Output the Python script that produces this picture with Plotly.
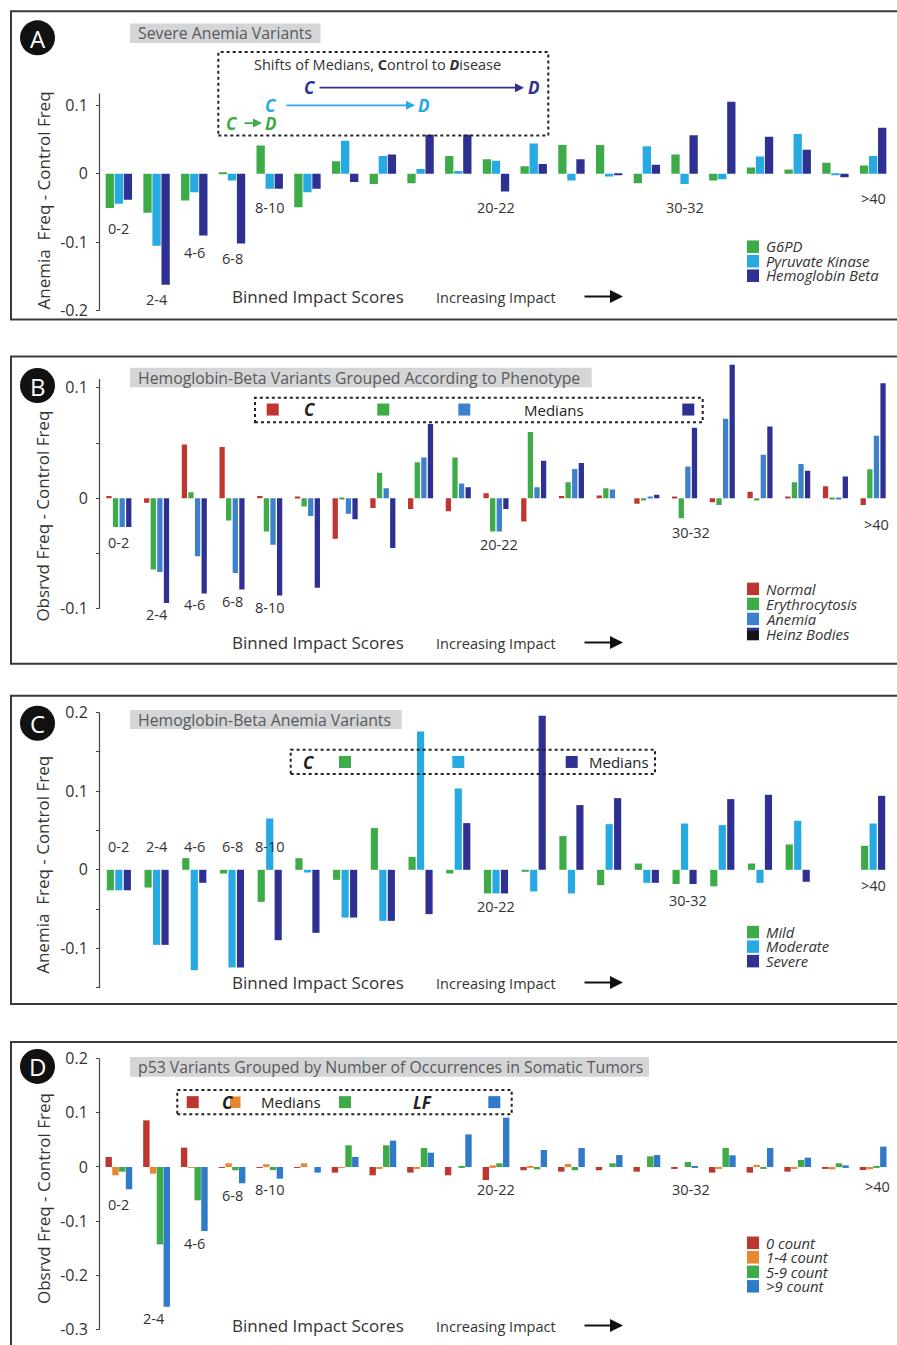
import plotly.graph_objects as go

W, H = 897, 1345

bins = ["0-2", "2-4", "4-6", "6-8", "8-10", "10-12", "12-14", "14-16", "16-18", "18-20",
        "20-22", "22-24", "24-26", "26-28", "28-30", "30-32", "32-34", "34-36", "36-38",
        "38-40", ">40"]

# Panel A: Severe anemia variants
a_g6pd = [-0.050, -0.057, -0.039, 0.001, 0.041, -0.049, 0.018, -0.015, -0.014, 0.026, 0.021,
          0.011, 0.042, 0.042, -0.014, 0.028, -0.010, 0.009, 0.006, 0.016, 0.012]
a_pk = [-0.044, -0.105, -0.027, -0.010, -0.022, -0.027, 0.048, 0.026, 0.007, 0.004, 0.019,
        0.044, -0.010, -0.004, 0.040, -0.015, -0.008, 0.025, 0.058, -0.001, 0.026]
a_hbb = [-0.038, -0.162, -0.090, -0.102, -0.022, -0.022, -0.012, 0.028, 0.057, 0.057, -0.026,
         0.014, 0.021, -0.002, 0.013, 0.056, 0.105, 0.054, 0.035, -0.005, 0.067]

# Panel B: Hemoglobin-beta variants by phenotype
b_normal = [0.002, -0.004, 0.0486, 0.0465, 0.002, 0.001, -0.0365, -0.0087, -0.0096, -0.0118,
            0.0045, -0.021, 0.002, 0.0025, -0.005, 0.001, -0.0036, 0.006, 0.001, 0.011, -0.006]
b_ery = [-0.026, -0.0645, 0.0054, -0.020, -0.030, -0.0075, -0.001, 0.023, 0.0326, 0.0368,
         -0.030, 0.060, 0.0145, 0.009, -0.002, -0.018, -0.006, -0.002, 0.0145, -0.001, 0.0262]
b_anemia = [-0.026, -0.0667, -0.0525, -0.0675, -0.042, -0.016, -0.014, 0.009, 0.0368, 0.0133,
            -0.030, 0.010, 0.0266, 0.008, 0.001, 0.0287, 0.0719, 0.0393, 0.031, -0.001, 0.0565]
b_heinz = [-0.026, -0.0947, -0.086, -0.0826, -0.088, -0.081, -0.019, -0.045, 0.0673, 0.010,
           -0.0096, 0.034, 0.032, 0.0, 0.0033, 0.0637, 0.1207, 0.065, 0.025, 0.0196, 0.104]

# Panel C: Hemoglobin-beta anemia variants
c_mild = [-0.026, -0.0225, 0.0148, -0.0047, -0.0407, 0.0148, -0.0127, 0.053, 0.0165, -0.0047,
          -0.030, -0.0025, 0.0428, -0.0195, 0.008, -0.018, -0.021, 0.008, 0.0322, None, 0.0305]
c_moderate = [-0.026, -0.0953, -0.1275, -0.124, 0.0652, -0.0034, -0.0606, -0.0648, 0.1757, 0.1033,
              -0.030, -0.0275, -0.030, 0.058, -0.0165, 0.0588, 0.0568, -0.0165, 0.0623, None, 0.0588]
c_severe = [-0.026, -0.0953, -0.0165, -0.124, -0.0894, -0.080, -0.0606, -0.0648, -0.0563, 0.0593,
            -0.030, 0.1957, 0.0822, 0.091, -0.0165, -0.018, 0.0898, 0.0953, -0.0152, None, 0.094]

# Panel D: p53 variants by occurrences in somatic tumors
d_0 = [0.0185, 0.086, 0.0357, -0.001, -0.001, -0.001, -0.0104, -0.0153, -0.0104, -0.0153, -0.024,
       -0.006, -0.0086, -0.006, -0.0086, -0.002, -0.0104, -0.0104, -0.0086, -0.002, -0.0055]
d_1_4 = [-0.0153, -0.0123, -0.001, 0.0068, 0.005, 0.0068, -0.001, -0.002, -0.003, 0.0, 0.003,
         0.002, 0.0055, 0.0, 0.0, 0.0, -0.002, 0.004, -0.002, -0.0043, -0.0043]
d_5_9 = [-0.0086, -0.1427, -0.0615, -0.006, -0.0055, 0.0, 0.040, 0.040, 0.035, 0.002, 0.0068,
         -0.0043, -0.006, 0.0068, 0.0197, 0.0092, 0.035, -0.002, 0.013, 0.0068, 0.002]
d_gt9 = [-0.041, -0.2577, -0.118, -0.030, -0.0215, -0.0104, 0.0185, 0.0486, 0.0264, 0.060, 0.091,
         0.0314, 0.035, 0.022, 0.022, 0.0015, 0.0215, 0.035, 0.0172, 0.003, 0.0375]

GREEN = "#3dab48"
LBLUE = "#27aae1"
NAVY = "#2e3192"
RED = "#be3630"
MBLUE = "#3d80cc"
ORANGE = "#e8872f"
DBLUE = "#2f7bc9"
FONT = "Open Sans"
TXT = "#333333"

# vertical calibration of the photographed page
Y_OFF, Y_SC = 4.7, 0.989


def px(x):
    return x / W


def py(y):
    return 1 - ((y - Y_OFF) / Y_SC) / H


def clamp(v):
    return min(1.0, max(0.0, v))


def ann(text, x, y, size, color=TXT, xanchor="center", family=FONT, **kw):
    d = dict(text=text, x=px(x), y=py(y), xref="paper", yref="paper", showarrow=False,
             xanchor=xanchor, yanchor="middle", font=dict(size=size, color=color, family=family))
    d.update(kw)
    return d


fig = go.Figure()

panels = [
    dict(ax="", series=[("G6PD", a_g6pd, GREEN), ("Pyruvate Kinase", a_pk, LBLUE),
                        ("Hemoglobin Beta", a_hbb, NAVY)],
         width=0.22, offsets=[-0.35, -0.11, 0.13]),
    dict(ax="2", series=[("Normal", b_normal, RED), ("Erythrocytosis", b_ery, GREEN),
                         ("Anemia", b_anemia, MBLUE), ("Heinz Bodies", b_heinz, NAVY)],
         width=0.14, offsets=[-0.3325, -0.1575, 0.0175, 0.1925]),
    dict(ax="3", series=[("Mild", c_mild, GREEN), ("Moderate", c_moderate, LBLUE),
                         ("Severe", c_severe, NAVY)],
         width=0.19, offsets=[-0.32, -0.095, 0.13]),
    dict(ax="4", series=[("0 count", d_0, RED), ("1-4 count", d_1_4, ORANGE),
                         ("5-9 count", d_5_9, GREEN), (">9 count", d_gt9, DBLUE)],
         width=0.17, offsets=[-0.355, -0.175, 0.005, 0.185]),
]

for p in panels:
    for (name, vals, col), off in zip(p["series"], p["offsets"]):
        fig.add_trace(go.Bar(x=bins, y=vals, name=name, marker=dict(color=col, line=dict(width=0)),
                             width=p["width"], offset=off, xaxis="x" + p["ax"], yaxis="y" + p["ax"],
                             showlegend=False, hoverinfo="x+y+name"))

# axis geometry: zero pixel, px per unit, domain top/bottom px
geo = [
    dict(zero=173.3, k=685, top=80, bot=312, tv=[-0.2, -0.1, 0, 0.1], tt=["-0.2", "-0.1", "0", "0.1"],
         line=(-0.2, 0.117)),
    dict(zero=497.7, k=1105, top=358, bot=624, tv=[-0.1, -0.05, 0, 0.05, 0.1],
         tt=["-0.1", "", "0", "", "0.1"], line=(-0.1, 0.108)),
    dict(zero=869, k=787, top=705, bot=992, tv=[-0.15, -0.1, -0.05, 0, 0.05, 0.1, 0.15, 0.2],
         tt=["", "-0.1", "", "0", "", "0.1", "", "0.2"], line=(-0.15, 0.2)),
    dict(zero=1166, k=542, top=1050, bot=1333, tv=[-0.3, -0.2, -0.1, 0, 0.1, 0.2],
         tt=["-0.3", "-0.2", "-0.1", "0", "0.1", "0.2"], line=(-0.3, 0.2)),
]

layout = dict(width=W, height=H, margin=dict(l=0, r=0, t=0, b=0), paper_bgcolor="white",
              plot_bgcolor="rgba(0,0,0,0)", barmode="overlay", showlegend=False,
              font=dict(family=FONT, color=TXT))
shapes = []
annotations = []

for i, g in enumerate(geo):
    sfx = "" if i == 0 else str(i + 1)
    rng = [-(g["bot"] - g["zero"]) / g["k"], (g["zero"] - g["top"]) / g["k"]]
    layout["xaxis" + sfx] = dict(domain=[px(100), px(892)], range=[-0.5, 20.5], type="category",
                                 visible=False, anchor="y" + sfx, fixedrange=True)
    layout["yaxis" + sfx] = dict(domain=[clamp(py(g["bot"])), clamp(py(g["top"]))], range=rng,
                                 anchor="x" + sfx, showgrid=False, zeroline=False, showline=False,
                                 ticks="outside", ticklen=3, tickwidth=1, tickcolor="#444",
                                 tickvals=g["tv"], ticktext=g["tt"],
                                 tickfont=dict(size=16, color=TXT, family=FONT),
                                 ticklabelstandoff=5, fixedrange=True)
    shapes.append(dict(type="line", xref="paper", yref="y" + sfx, x0=px(99.5), x1=px(99.5),
                       y0=g["line"][0], y1=g["line"][1], line=dict(color="#444", width=1.2)))

# panel frames
for y0, y1 in [(11, 319), (356, 663), (695, 1003), (1041, 1370)]:
    shapes.append(dict(type="rect", xref="paper", yref="paper", x0=px(11), x1=px(905),
                       y0=py(y1), y1=py(y0), line=dict(color="#3a3a3a", width=2)))

# circled letters
for letter, cy in [("A", 37.5), ("B", 385), ("C", 722.5), ("D", 1065.5)]:
    shapes.append(dict(type="circle", xref="paper", yref="paper", x0=px(20), x1=px(55),
                       y0=py(cy + 17.5), y1=py(cy - 17.5), fillcolor="#111111", line=dict(width=0)))
    annotations.append(ann(letter, 37.5, cy + 0.5, 24, color="white"))

# grey title boxes
for text, x1, y0, y1 in [("Severe Anemia Variants", 320.5, 23.3, 42.7),
                         ("Hemoglobin-Beta Variants Grouped According to Phenotype", 591.7, 367.3, 386.7),
                         ("Hemoglobin-Beta Anemia Variants", 401.7, 709.3, 728.3),
                         ("p53 Variants Grouped by Number of Occurrences in Somatic Tumors", 649, 1056, 1075.7)]:
    shapes.append(dict(type="rect", xref="paper", yref="paper", x0=px(130), x1=px(x1),
                       y0=py(y1), y1=py(y0), fillcolor="#d3d5d7", line=dict(width=0), layer="below"))
    annotations.append(ann(text, 135.5, (y0 + y1) / 2, 15.8, color="#58595b", xanchor="left"))

# y-axis titles
for text, cy in [("Anemia  Freq - Control Freq", 200), ("Obsrvd Freq - Control Freq", 516),
                 ("Anemia  Freq - Control Freq", 864), ("Obsrvd Freq - Control Freq", 1198)]:
    annotations.append(ann(text, 43, cy, 17, textangle=-90))

# bottom labels with arrows
for cy in [296, 641.7, 981.7, 1324.5]:
    annotations.append(ann("Binned Impact Scores", 317.5, cy, 17))
    annotations.append(ann("Increasing Impact", 496.5, cy + 1, 14.5))
    annotations.append(dict(text="", x=px(623), y=py(cy), xref="paper", yref="paper", showarrow=True,
                            ax=-40, ay=0, arrowhead=2, arrowsize=1.3, arrowwidth=2, arrowcolor="#111"))

# bin labels (positions in data units per panel)
bin_labels = [
    ("", [("0-2", -0.080), ("2-4", -0.1835), ("4-6", -0.115), ("6-8", -0.124), ("8-10", -0.049),
          ("20-22", -0.049), ("30-32", -0.049), (">40", -0.036)]),
    ("2", [("0-2", -0.0398), ("2-4", -0.1047), ("4-6", -0.096), ("6-8", -0.0932), ("8-10", -0.099),
           ("20-22", -0.0421), ("30-32", -0.0312), (">40", -0.0235)]),
    ("3", [("0-2", 0.0296), ("2-4", 0.0296), ("4-6", 0.0296), ("6-8", 0.0296), ("8-10", 0.0296),
           ("20-22", -0.047), ("30-32", -0.0385), (">40", -0.0203)]),
    ("4", [("0-2", -0.0688), ("2-4", -0.2792), ("4-6", -0.1408), ("6-8", -0.0522), ("8-10", -0.0424),
           ("20-22", -0.0411), ("30-32", -0.0411), (">40", -0.0363)]),
]
xshift = {("2", "20-22"): 3, ("2", "30-32"): 6, ("4", "30-32"): 6, ("2", ">40"): 3, ("4", ">40"): 4,
          ("3", "30-32"): 3, ("4", "2-4"): -3}
for sfx, labs in bin_labels:
    for b, yv in labs:
        annotations.append(dict(text=b, x=b, y=yv, xref="x" + sfx, yref="y" + sfx, showarrow=False,
                                xanchor="center", yanchor="middle", xshift=xshift.get((sfx, b), 0),
                                font=dict(size=14.5, color=TXT, family=FONT)))

# custom legends (squares + italic text)
legends = [
    ([("G6PD", GREEN), ("Pyruvate Kinase", LBLUE), ("Hemoglobin Beta", NAVY)], 246, 14.5),
    ([("Normal", RED), ("Erythrocytosis", GREEN), ("Anemia", MBLUE), ("Heinz Bodies", NAVY)], 588, 15),
    ([("Mild", GREEN), ("Moderate", LBLUE), ("Severe", NAVY)], 931, 14.5),
    ([("0 count", RED), ("1-4 count", ORANGE), ("5-9 count", GREEN), (">9 count", DBLUE)], 1241.5, 14.5),
]
for items, y0, step in legends:
    for j, (name, col) in enumerate(items):
        cy = y0 + j * step
        shapes.append(dict(type="rect", xref="paper", yref="paper", x0=px(747), x1=px(759),
                           y0=py(cy + 6.5), y1=py(cy - 6), fillcolor=col, line=dict(width=0)))
        if name == "Heinz Bodies":
            shapes.append(dict(type="rect", xref="paper", yref="paper", x0=px(747), x1=px(759),
                               y0=py(cy + 6.5), y1=py(cy - 3), fillcolor="#151515", line=dict(width=0)))
        annotations.append(ann("<i>" + name + "</i>", 764, cy, 14.8, xanchor="left"))

# dashed median boxes
for x0, x1, y0, y1 in [(218.3, 548.3, 51.7, 135), (255, 702.7, 397.3, 421.7),
                       (290.7, 655, 749, 773.3), (177.3, 511.7, 1089, 1113.3)]:
    shapes.append(dict(type="rect", xref="paper", yref="paper", x0=px(x0), x1=px(x1), y0=py(y1), y1=py(y0),
                       line=dict(color="#222", width=2, dash="3px,3px")))

# panel A box content
annotations.append(ann("Shifts of Medians, <b>C</b>ontrol to <b><i>D</i></b>isease", 377.5, 64, 14.5))
for col, cx, dx, y, l0, l1 in [(NAVY, 309.5, 533.5, 87.3, 318, 524), (LBLUE, 270.5, 423.5, 105, 285, 415),
                               (GREEN, 232, 271, 122.7, 243, 262)]:
    annotations.append(ann("<b><i>C</i></b>", cx, y, 17, color=col))
    annotations.append(ann("<b><i>D</i></b>", dx, y, 17, color=col))
    annotations.append(dict(text="", x=px(l1), y=py(y), xref="paper", yref="paper", showarrow=True,
                            ax=-(l1 - l0), ay=0, arrowhead=2, arrowsize=1, arrowwidth=1.8, arrowcolor=col))

# box content squares and labels (panel B, C, D)
box_squares = [
    (409, [(266.7, RED), (377.3, GREEN), (458.3, MBLUE), (682.3, NAVY)]),
    (761.2, [(339, GREEN), (452.3, LBLUE), (565.7, NAVY)]),
    (1101.2, [(186.7, RED), (339, GREEN), (488.3, DBLUE)]),
]
for cy, sq in box_squares:
    for x0, col in sq:
        shapes.append(dict(type="rect", xref="paper", yref="paper", x0=px(x0), x1=px(x0 + 12),
                           y0=py(cy + 6), y1=py(cy - 6), fillcolor=col, line=dict(width=0)))

box_texts = [
    ("<b><i>C</i></b>", 310, 409, 17), ("Medians", 554, 409, 15),
    ("<b><i>C</i></b>", 308.7, 761.5, 17), ("Medians", 619, 761.5, 15),
    ("<b><i>C</i></b>", 228, 1101.5, 17), ("Medians", 291, 1101.5, 15), ("<b><i>LF</i></b>", 422.5, 1101.5, 17),
]
for t, x, y, s in box_texts:
    annotations.append(ann(t, x, y, s, color="#222"))
# orange median square overlapping the C in panel D
shapes.append(dict(type="rect", xref="paper", yref="paper", x0=px(230), x1=px(240.5),
                   y0=py(1107), y1=py(1095.5), fillcolor=ORANGE, line=dict(width=0)))

layout["shapes"] = shapes
layout["annotations"] = annotations
fig.update_layout(**layout)
fig.write_html("out.html", config={"displayModeBar": False},
               post_script="document.body.style.margin='0';document.body.style.overflow='hidden';")
